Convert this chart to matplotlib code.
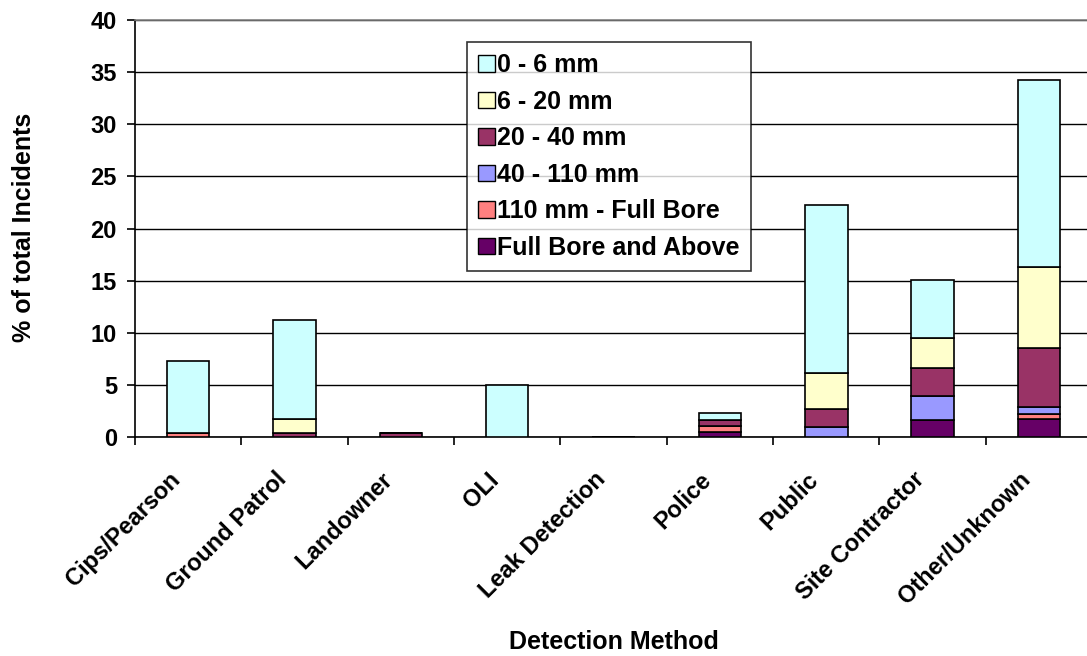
import numpy as np
import matplotlib
matplotlib.use("Agg")
import matplotlib.pyplot as plt
from matplotlib.patches import Patch
from matplotlib.transforms import ScaledTranslation

plt.rcParams['font.family'] = ['Liberation Sans', 'DejaVu Sans']
plt.rcParams['font.weight'] = 'bold'

categories = ['Cips/Pearson', 'Ground Patrol', 'Landowner', 'OLI', 'Leak Detection',
              'Police', 'Public', 'Site Contractor', 'Other/Unknown']

# stacked from the bottom up
full_bore_above = [0, 0, 0, 0, 0, 0.5, 0, 1.6, 1.7]
mm110_full_bore = [0.4, 0, 0, 0, 0, 0.6, 0, 0, 0.5]
mm40_110 = [0, 0, 0, 0, 0, 0, 1.0, 2.3, 0.65]
mm20_40 = [0, 0.4, 0.4, 0, 0, 0.5, 1.7, 2.7, 5.65]
mm6_20 = [0, 1.3, 0, 0, 0, 0, 3.4, 2.9, 7.8]
mm0_6 = [6.9, 9.5, 0, 5.0, 0, 0.7, 16.2, 5.6, 17.9]

series = [
    ('Full Bore and Above', full_bore_above, '#660066'),
    ('110 mm - Full Bore', mm110_full_bore, '#FF8080'),
    ('40 - 110 mm', mm40_110, '#9999FF'),
    ('20 - 40 mm', mm20_40, '#993366'),
    ('6 - 20 mm', mm6_20, '#FFFFCC'),
    ('0 - 6 mm', mm0_6, '#CCFFFF'),
]

fig = plt.figure(figsize=(10.87, 6.56), dpi=100)
ax = fig.add_axes([0.1242, 0.3338, 0.8805, 0.6357])

x = np.arange(len(categories))
bottom = np.zeros(len(categories))
for name, vals, color in series:
    vals = np.array(vals, dtype=float)
    ax.bar(x, vals, width=0.4, bottom=bottom, color=color, edgecolor='black',
           linewidth=1.2, zorder=3)
    bottom += vals

ax.set_xlim(-0.5, len(categories) - 0.5)
ax.set_ylim(0, 40)
ax.set_yticks(np.arange(0, 41, 5))
ax.yaxis.grid(True, color='black', linewidth=1.0, zorder=0)
ax.set_axisbelow(True)

ax.set_xticks(x)
ax.set_xticklabels(categories, rotation=45, ha='right', va='top',
                   rotation_mode='anchor', fontsize=17, fontweight='bold')
ax.tick_params(axis='x', which='major', length=0, pad=18)
# nudge labels a bit left/down like the original
shift = ScaledTranslation(-0.2, -0.06, fig.dpi_scale_trans)
for lab in ax.get_xticklabels():
    lab.set_transform(lab.get_transform() + shift)
ax.set_xticks(np.arange(-0.5, len(categories), 1.0), minor=True)
ax.tick_params(axis='x', which='minor', length=6, width=1.2, direction='out')
ax.tick_params(axis='y', length=6, width=1.2, labelsize=17, pad=7)
for lab in ax.get_yticklabels():
    lab.set_fontweight('bold')

ax.spines['right'].set_visible(False)
ax.spines['top'].set_color('#808080')
ax.spines['top'].set_linewidth(1.2)
ax.spines['left'].set_linewidth(1.2)
ax.spines['bottom'].set_linewidth(1.2)

fig.text(0.022, 0.653, '% of total Incidents', rotation=90, ha='center', va='center',
         fontsize=18, fontweight='bold')
fig.text(0.5645, 0.0213, 'Detection Method', ha='center', va='center',
         fontsize=18, fontweight='bold')

handles = [Patch(facecolor=c, edgecolor='black', linewidth=1.0, label=n)
           for n, v, c in reversed(series)]
leg = ax.legend(handles=handles, loc='upper left', bbox_to_anchor=(0.347, 0.947),
                prop={'size': 18, 'weight': 'bold'}, frameon=True, fancybox=False,
                edgecolor='black', handlelength=0.65, handleheight=0.65,
                handletextpad=0.1, labelspacing=0.5, borderpad=0.45,
                borderaxespad=0)
leg.get_frame().set_linewidth(1.2)
leg.set_zorder(5)

fig.savefig('out.png', dpi=100)
